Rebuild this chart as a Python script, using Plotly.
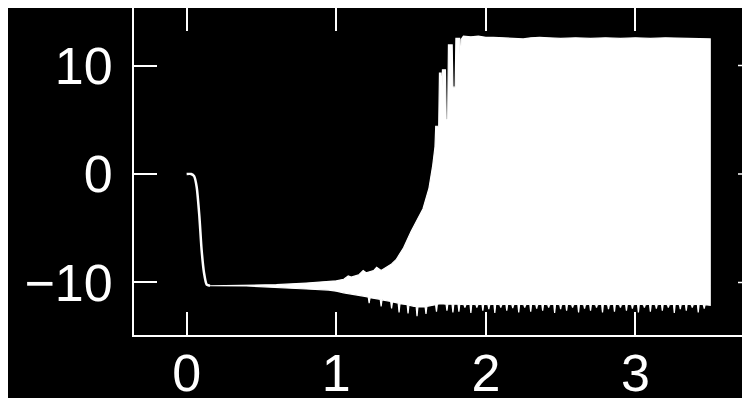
import plotly.graph_objects as go

# ---- data ----
x_tick_vals = [0, 1, 2, 3]
x_tick_text = ["0", "1", "2", "3"]
y_tick_vals = [-10, 0, 10]
y_tick_text = ["\u221210", "0", "10"]

# initial transient (single line)
transient_x = [0.0, 0.03, 0.05, 0.067, 0.085, 0.10, 0.116, 0.134, 0.156]
transient_y = [0.0, 0.0, -0.2, -1.2, -3.9, -7.0, -9.1, -10.2, -10.3]

# upper envelope of the oscillation
upper_x = [0.156, 0.40, 0.60, 0.80, 0.95, 1.00, 1.05, 1.08, 1.10, 1.15, 1.18, 1.20,
           1.25, 1.27, 1.30, 1.34, 1.37, 1.40, 1.45, 1.50, 1.55, 1.58, 1.62, 1.645,
           1.66, 1.665, 1.685, 1.69, 1.70, 1.705, 1.71, 1.73, 1.735, 1.745, 1.75,
           1.775, 1.78, 1.795, 1.80, 1.825, 1.83, 1.835, 1.85, 1.90, 1.95, 2.00,
           2.05, 2.10, 2.15, 2.20, 2.25, 2.30, 2.36, 2.42, 2.50, 2.60, 2.70, 2.80,
           2.90, 3.00, 3.10, 3.20, 3.30, 3.40, 3.50]
upper_y = [-10.3, -10.28, -10.2, -10.05, -9.9, -9.85, -9.7, -9.4, -9.5, -9.3, -8.9, -9.1,
           -8.9, -8.6, -8.9, -8.6, -8.3, -7.9, -6.8, -5.3, -4.0, -3.2, -1.3, 0.8,
           2.5, 4.4, 4.4, 9.3, 9.3, 7.0, 9.6, 9.6, 5.0, 5.0, 11.9,
           11.9, 8.0, 8.0, 12.5, 12.5, 9.1, 12.4, 12.7, 12.65, 12.7, 12.6,
           12.6, 12.55, 12.5, 12.45, 12.45, 12.55, 12.6, 12.55, 12.5, 12.55, 12.5, 12.55,
           12.5, 12.55, 12.5, 12.55, 12.5, 12.5, 12.45]

# lower envelope of the oscillation (thin downward spikes)
lower_x = [0.156, 0.40, 0.60, 0.80, 0.95, 1.00, 1.05, 1.10, 1.15, 1.20,
           1.214, 1.22, 1.226, 1.294, 1.30, 1.306, 1.364, 1.37, 1.376, 1.40,
           1.414, 1.42, 1.426, 1.45, 1.474, 1.48, 1.486, 1.50, 1.52,
           1.534, 1.54, 1.546, 1.58, 1.594, 1.60, 1.606, 1.63, 1.664, 1.67, 1.676,
           1.70, 1.734, 1.74, 1.746, 1.774, 1.78, 1.786, 1.80,
           1.814, 1.82, 1.826, 1.854, 1.86, 1.866, 1.894, 1.90, 1.906,
           1.934, 1.94, 1.946, 1.974, 1.98, 1.986, 2.014, 2.02, 2.026,
           2.054, 2.06, 2.066, 2.094, 2.10, 2.106, 2.134, 2.14, 2.146,
           2.174, 2.18, 2.186, 2.214, 2.22, 2.226, 2.254, 2.26, 2.266,
           2.294, 2.30, 2.306, 2.334, 2.34, 2.346, 2.374, 2.38, 2.386,
           2.414, 2.42, 2.426, 2.454, 2.46, 2.466, 2.494, 2.50, 2.506,
           2.534, 2.54, 2.546, 2.574, 2.58, 2.586, 2.614, 2.62, 2.626,
           2.654, 2.66, 2.666, 2.694, 2.70, 2.706, 2.734, 2.74, 2.746,
           2.774, 2.78, 2.786, 2.814, 2.82, 2.826, 2.854, 2.86, 2.866,
           2.894, 2.90, 2.906, 2.934, 2.94, 2.946, 2.974, 2.98, 2.986,
           3.014, 3.02, 3.026, 3.054, 3.06, 3.066, 3.094, 3.10, 3.106,
           3.134, 3.14, 3.146, 3.174, 3.18, 3.186, 3.214, 3.22, 3.226,
           3.254, 3.26, 3.266, 3.294, 3.30, 3.306, 3.334, 3.34, 3.346,
           3.374, 3.38, 3.386, 3.414, 3.42, 3.426, 3.454, 3.46, 3.466, 3.50]
lower_y = [-10.3, -10.32, -10.45, -10.6, -10.7, -10.8, -10.95, -11.1, -11.2, -11.3,
           -11.35, -11.9, -11.4, -11.55, -12.2, -11.6, -11.75, -12.4, -11.8, -11.85,
           -11.9, -12.75, -11.95, -12.0, -12.05, -12.85, -12.1, -12.15, -12.2,
           -12.2, -13.1, -12.25, -12.25, -12.25, -12.9, -12.2, -12.15, -12.05, -12.7, -12.0,
           -11.95, -12.0, -12.6, -12.0, -12.0, -12.75, -12.0, -12.0,
           -12.0, -12.7, -12.0, -12.05, -12.3, -12.05, -12.0, -12.8, -12.0,
           -12.05, -12.3, -12.05, -12.0, -12.6, -12.0, -12.05, -12.45, -12.05,
           -12.0, -12.8, -12.0, -12.05, -12.3, -12.05, -12.0, -12.6, -12.0,
           -12.05, -12.35, -12.05, -12.0, -12.75, -12.0, -12.05, -12.3, -12.05,
           -12.0, -12.7, -12.0, -12.05, -12.4, -12.05, -12.0, -12.6, -12.0,
           -12.05, -12.3, -12.05, -12.0, -12.8, -12.0, -12.05, -12.45, -12.05,
           -12.0, -12.6, -12.0, -12.05, -12.3, -12.05, -12.0, -12.75, -12.0,
           -12.05, -12.4, -12.05, -12.0, -12.6, -12.0, -12.05, -12.3, -12.05,
           -12.0, -12.75, -12.0, -12.05, -12.45, -12.05, -12.0, -12.7, -12.0,
           -12.05, -12.3, -12.05, -12.0, -12.6, -12.0, -12.05, -12.4, -12.05,
           -12.0, -12.75, -12.0, -12.05, -12.3, -12.05, -12.0, -12.7, -12.0,
           -12.05, -12.4, -12.05, -12.0, -12.6, -12.0, -12.05, -12.3, -12.05,
           -12.0, -12.8, -12.0, -12.05, -12.45, -12.05, -12.0, -12.6, -12.0,
           -12.05, -12.3, -12.05, -12.0, -12.75, -12.0, -12.05, -12.4, -12.05, -12.1]

# ---- figure ----
poly_x = upper_x + lower_x[::-1]
poly_y = upper_y + lower_y[::-1]

fig = go.Figure()
fig.add_trace(go.Scatter(x=poly_x, y=poly_y, mode="lines", fill="toself",
                         fillcolor="white", line=dict(color="white", width=1.2),
                         hoverinfo="skip", showlegend=False))
fig.add_trace(go.Scatter(x=transient_x, y=transient_y, mode="lines",
                         line=dict(color="white", width=2.5, shape="spline", smoothing=0.6),
                         hoverinfo="skip", showlegend=False))

font = dict(family="Liberation Sans, sans-serif", size=52, color="white")

# the page body offsets the figure by 8px; margins compensate for it
fig.update_layout(
    width=750, height=398,
    margin=dict(l=126, r=8, t=0, b=71, autoexpand=False),
    paper_bgcolor="black", plot_bgcolor="black",
    showlegend=False,
    xaxis=dict(range=[-0.352, 3.766], tickvals=x_tick_vals, ticktext=x_tick_text,
               ticks="inside", ticklen=23, tickwidth=1.5, tickcolor="white",
               showline=True, linecolor="white", linewidth=2, mirror="ticks",
               showgrid=False, zeroline=False, tickfont=font, ticklabelstandoff=-8,
               automargin=False),
    yaxis=dict(range=[-14.84, 15.30], tickvals=y_tick_vals, ticktext=y_tick_text,
               ticks="inside", ticklen=23, tickwidth=1.5, tickcolor="white",
               showline=True, linecolor="white", linewidth=2, mirror=False,
               showgrid=False, zeroline=False, tickfont=font, ticklabelstandoff=9,
               automargin=False),
)

# right-hand ticks (the right frame edge lies just outside the picture)
for v in y_tick_vals:
    fig.add_shape(type="line", xref="paper", yref="y", x0=0.9805, x1=1.0, y0=v, y1=v,
                  line=dict(color="white", width=1.5))

fig.write_html("out.html")
